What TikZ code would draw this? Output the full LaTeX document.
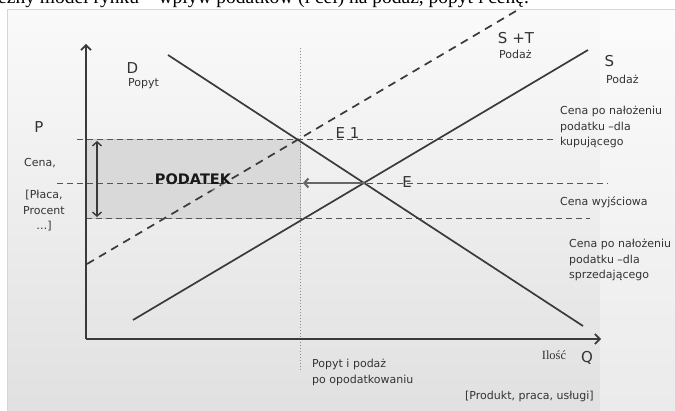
\documentclass[tikz,border=0pt]{standalone}
\usepackage{fontspec}
\setmainfont{DejaVu Sans}
\newfontfamily\serifcap{Liberation Serif}
\usetikzlibrary{arrows.meta}
\definecolor{ink}{HTML}{333333}
\definecolor{lineink}{HTML}{3A3A3A}
\definecolor{dashink}{HTML}{555555}
\definecolor{boxfill}{HTML}{D9D9D9}
\definecolor{boxedge}{HTML}{C4C4C4}
\definecolor{panelborder}{HTML}{CAD8EA}
\tikzset{
  curve/.style={draw=lineink, line width=1.7pt},
  pricedash/.style={draw=dashink, line width=0.9pt, dash pattern=on 6pt off 4pt},
  axisline/.style={draw=lineink, line width=1.8pt, -{Straight Barb[length=5pt,width=10pt,line width=1.6pt]}},
  big/.style={font=\fontsize{15}{17}\selectfont, text=ink, inner sep=0pt},
  small/.style={font=\fontsize{11}{15.5}\selectfont, text=ink, inner sep=0pt, align=left},
}
\begin{document}
\begin{tikzpicture}[x=1pt, y=-1pt]
\clip (0,0) rectangle (675,411);
\fill[white] (0,0) rectangle (675,411);
% caption (cut off at the top, as in the reference)
\node[anchor=base west, inner sep=0pt, font=\serifcap\fontsize{19.5}{22}\selectfont] (caption) at (-2,4) {ezny model rynku – wpływ podatków (i ceł) na podaż, popyt i cenę.};
% panel
\shade[top color=black!2, bottom color=black!12] (7,10) rectangle (676,412);
\fill[white, opacity=0.35] (600,10) rectangle (676,412);
\draw[panelborder, line width=1pt] (7,412) -- (7,10) -- (676,10);
% tax box
\filldraw[fill=boxfill, draw=boxedge, line width=0.6pt] (86,139) rectangle (300,218);
% dotted vertical
\draw[black!45, line width=0.7pt, dash pattern=on 1.5pt off 1.5pt] (300,48) -- (300,370);
% price levels
\coordinate (pb0) at (77,139);  \coordinate (pb1) at (556,139);
\coordinate (p00) at (57,183);  \coordinate (p01) at (608,183);
\coordinate (ps0) at (86,218);  \coordinate (ps1) at (590,218);
\draw[pricedash] (pb0) -- (pb1);
\draw[pricedash] (p00) -- (p01);
\draw[pricedash] (ps0) -- (ps1);
% axes
\coordinate (O) at (86,339);
\coordinate (ytop) at (86,44);
\coordinate (xend) at (601,339);
\draw[axisline] (O) -- (ytop);
\draw[axisline] (O) -- (xend);
% curves
\coordinate (d0) at (168,55);  \coordinate (d1) at (583,326);
\coordinate (s0) at (133,320); \coordinate (s1) at (588,50);
\coordinate (t0) at (87,264);  \coordinate (t1) at (516,11);
\draw[curve] (d0) -- (d1);
\draw[curve] (s0) -- (s1);
\draw[draw=lineink, line width=1.7pt, dash pattern=on 8pt off 6pt] (t0) -- (t1);
% double arrow (tax)
\coordinate (ta) at (97,141); \coordinate (tb) at (97,217);
\draw[draw=lineink, line width=1.6pt, {Straight Barb[length=4pt,width=9pt,line width=1.4pt]}-{Straight Barb[length=4pt,width=9pt,line width=1.4pt]}] (ta) -- (tb);
% shift arrow
\coordinate (eq) at (365,183); \coordinate (eqt) at (303,183);
\draw[draw=black!60, line width=2.4pt, -{Straight Barb[length=4pt,width=9pt,line width=2pt]}] (eq) -- (eqt);
% labels
\node[big] (lD) at (132.5,68.5) {D};
\node[small, anchor=west] (lDp) at (128,84) {Popyt};
\node[big] (lST) at (516,38) {S +T};
\node[small, anchor=west] (lSTp) at (499,54) {Podaż};
\node[big] (lS) at (609.5,61.5) {S};
\node[small, anchor=west] (lSp) at (606,79) {Podaż};
\node[big] (lP) at (39,127) {P};
\node[small] (lCena) at (40,163) {Cena,};
\node[small, align=center] (lPlaca) at (44,211) {[Płaca,\\Procent\\…]};
\node[inner sep=0pt, font=\bfseries\fontsize{14.5}{16}\selectfont, text=black!15, opacity=0.5, yscale=-0.6, transform shape] (lPodR) at (193,188) {PODATEK};
\node[inner sep=0pt, font=\bfseries\fontsize{14.5}{16}\selectfont, text=black!90] (lPod) at (193,179.5) {PODATEK};
\node[big] (lE1) at (347.5,133.5) {E 1};
\node[big] (lE) at (407,182.5) {E};
\node[small, anchor=north west] (lbuy) at (560,106) {Cena po nałożeniu\\podatku –dla\\kupującego};
\node[small, anchor=west] (lorig) at (560,202) {Cena wyjściowa};
\node[small, anchor=north west] (lsell) at (569,239) {Cena po nałożeniu\\podatku –dla\\sprzedającego};
\node[inner sep=0pt, font=\serifcap\fontsize{12.5}{14}\selectfont, text=ink] (lIl) at (554,355.5) {Ilość};
\node[big] (lQ) at (587,357.5) {Q};
\node[small, anchor=north west] (lafter) at (312,359) {Popyt i podaż\\po opodatkowaniu};
\node[small, anchor=west] (lprod) at (465,396) {[Produkt, praca, usługi]};
\end{tikzpicture}
\end{document}
